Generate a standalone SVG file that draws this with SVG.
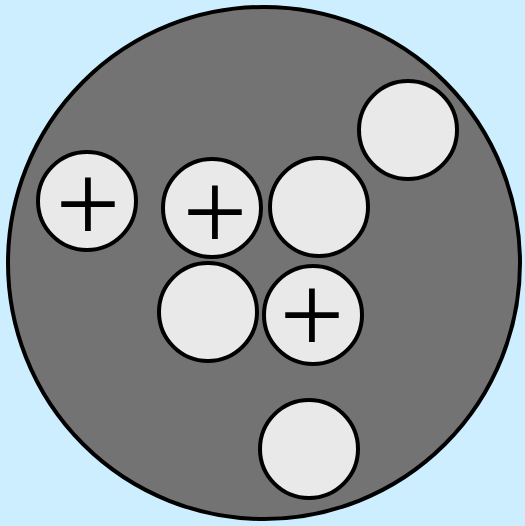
<svg xmlns="http://www.w3.org/2000/svg" width="525" height="526" viewBox="0 0 525 526">
<style>
.big{fill:#737373;stroke:#000;stroke-width:4}
.ball{fill:#e9e9e9;stroke:#000;stroke-width:4}
.plus{font-family:"Liberation Serif",serif;font-size:115px;fill:#000;text-anchor:middle}
</style>
<rect width="525" height="526" fill="#cdeeff"/>
<g id="cell"><circle class="big" cx="264" cy="263" r="256"/></g>
<g id="connectors"></g>
<g id="ball-top-right"><circle class="ball" cx="408" cy="130" r="49"/></g>
<g id="ball-left"><circle class="ball" cx="87" cy="201" r="49"/><text class="plus" x="88" y="242">+</text></g>
<g id="ball-mid"><circle class="ball" cx="212" cy="208" r="49"/><text class="plus" x="215" y="250">+</text></g>
<g id="ball-mid-right"><circle class="ball" cx="319" cy="207" r="49"/></g>
<g id="ball-low-left"><circle class="ball" cx="208" cy="312" r="49"/></g>
<g id="ball-low-right"><circle class="ball" cx="313" cy="315" r="49"/><text class="plus" x="312" y="353">+</text></g>
<g id="ball-bottom"><circle class="ball" cx="309" cy="449" r="49"/></g>
</svg>
